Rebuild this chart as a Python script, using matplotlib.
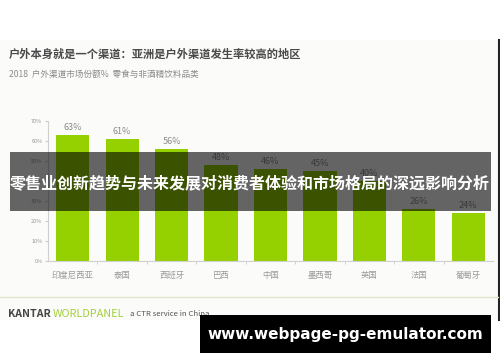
import matplotlib
matplotlib.use('Agg')
import matplotlib.pyplot as plt
from matplotlib.patches import Rectangle
from matplotlib.lines import Line2D

plt.rcParams['font.family'] = ['Noto Sans CJK SC', 'DejaVu Sans']

# data
countries = ['印度尼西亚', '泰国', '西班牙', '巴西', '中国', '墨西哥', '英国', '法国', '葡萄牙']
shares = [63, 61, 56, 48, 46, 45, 40, 26, 24]
yticks = [0, 10, 20, 30, 40, 50, 60, 70]

title = '户外本身就是一个渠道：亚洲是户外渠道发生率较高的地区'
subtitle = '2018  户外渠道市场份额%  零食与非酒精饮料品类'
banner = '零售业创新趋势与未来发展对消费者体验和市场格局的深远影响分析'
site = 'www.webpage-pg-emulator.com'

W, H = 500, 362
fig = plt.figure(figsize=(W / 100, H / 100), dpi=100)
fig.patch.set_facecolor('white')

def fx(px):
    return px / W

def fy(py):
    # py measured from the top
    return 1 - py / H

# screenshot background area and its right border
fig.patches.append(Rectangle((0, fy(320)), fx(498), fy(40) - fy(320),
                             transform=fig.transFigure, facecolor='#fbfbfa',
                             edgecolor='none', zorder=-2))
fig.lines.append(Line2D([fx(499), fx(499)], [fy(40), fy(320)],
                        transform=fig.transFigure, color='#222222', lw=1.5))
fig.lines.append(Line2D([0, fx(498)], [fy(297), fy(297)],
                        transform=fig.transFigure, color='#e6e4cf', lw=1))

fig.text(fx(9), fy(54), title, fontsize=8.1, fontweight='bold', color='#4a4a4a',
         va='center', ha='left')
fig.text(fx(9), fy(74), subtitle, fontsize=6.2, color='#8a8a8a', va='center', ha='left')

ax = fig.add_axes([fx(48), fy(261), fx(493) - fx(48), fy(121) - fy(261)])
ax.set_facecolor('none')
x = list(range(len(countries)))
ax.bar(x, shares, width=0.67, color='#95d000')
for xi, v in zip(x, shares):
    ax.text(xi, v + 1.5, f'{v}%', ha='center', va='bottom', fontsize=6.5, color='#8c8c8c',
            clip_on=False)
ax.set_xlim(-0.5, len(countries) - 0.5)
ax.set_ylim(0, 70)
ax.set_yticks(yticks)
ax.set_yticklabels([f'{t}%' for t in yticks], fontsize=4, color='#999999')
ax.set_xticks(x)
ax.set_xticklabels(countries, fontsize=6, color='#9a9a9a')
ax.set_xticks([i + 0.5 for i in x[:-1]], minor=True)
ax.tick_params(axis='x', which='major', length=0, pad=7)
ax.tick_params(axis='x', which='minor', length=2, color='#cccccc')
ax.tick_params(axis='y', length=2, color='#cccccc', pad=2)
for s in ['top', 'right']:
    ax.spines[s].set_visible(False)
for s in ['left', 'bottom']:
    ax.spines[s].set_color('#d0d0d0')
    ax.spines[s].set_linewidth(0.8)

# footer logo
fig.text(fx(8), fy(314), 'KANTAR', fontsize=7.6, fontweight='bold', color='#444444',
         va='center', ha='left')
fig.text(fx(53), fy(314), 'WORLDPANEL', fontsize=7.8, color='#a2cf3c', va='center', ha='left')
fig.text(fx(130), fy(314), 'a CTR service in China', fontsize=5.6, color='#555555',
         va='center', ha='left')

# dark banner across the chart
fig.patches.append(Rectangle((fx(10), fy(211)), fx(491) - fx(10), fy(152) - fy(211),
                             transform=fig.transFigure, facecolor='black', alpha=0.6,
                             edgecolor='none', zorder=5))
fig.text(0.5, fy(183), banner, fontsize=11.5, fontweight='bold', color='white',
         ha='center', va='center', zorder=6)

# site box
fig.patches.append(Rectangle((fx(200), fy(353)), fx(491) - fx(200), fy(315) - fy(353),
                             transform=fig.transFigure, facecolor='black',
                             edgecolor='none', zorder=5))
fig.text(fx(345), fy(334), site, fontsize=11, fontweight='bold', color='white',
         ha='center', va='center', zorder=6, family='DejaVu Sans')

fig.savefig('out.png', dpi=100)
